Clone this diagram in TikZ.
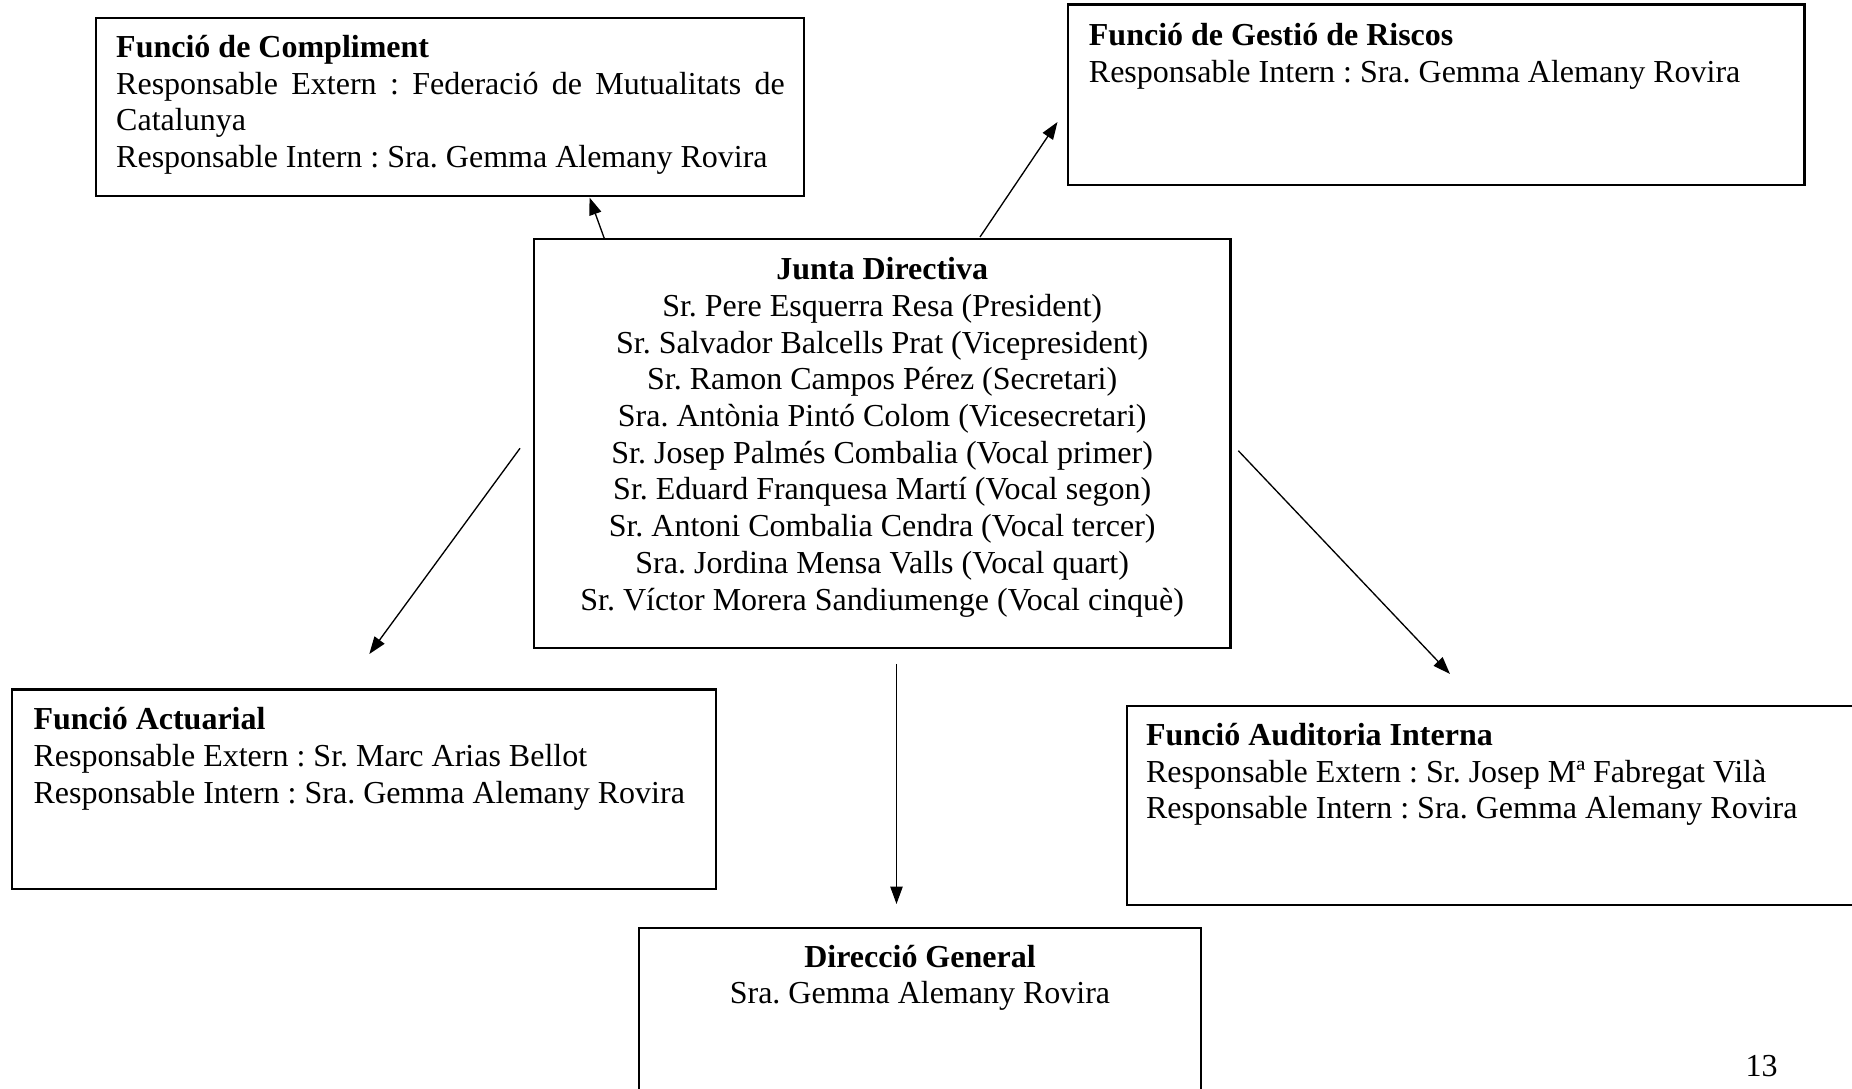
\documentclass[tikz,border=0pt]{standalone}
\usepackage{fontspec}
\setmainfont{Liberation Serif}
\usetikzlibrary{arrows.meta}
\newcommand\topstrut{\rule{0pt}{10pt}}
\frenchspacing
\tikzset{
  orgbox/.style={draw=black, line width=0.8pt, inner sep=0pt, fill=none},
  orgtext/.style={inner sep=0pt, font=\fontsize{12}{13.76}\selectfont\frenchspacing},
  orgarrow/.style={line width=0.5pt, -{Triangle[length=6.5pt,width=4.6pt]}}
}
\begin{document}
\begin{tikzpicture}[x=0.375pt,y=-0.375pt]
\useasboundingbox (0,0) rectangle (1852,1089);
\clip (0,0) rectangle (1852,1089);

% boxes
\node[orgbox, minimum width={708.6*0.375pt}, minimum height={178.7*0.375pt}] (comp) at (450,107) {};
\node[orgbox, minimum width={736.7*0.375pt}, minimum height={180.5*0.375pt}] (gest) at (1436.2,94.8) {};
\node[orgbox, minimum width={696.5*0.375pt}, minimum height={409.3*0.375pt}] (junta) at (882.2,443.6) {};
\node[orgbox, minimum width={703.9*0.375pt}, minimum height={199.5*0.375pt}] (act) at (363.7,789.2) {};
\node[orgbox, minimum width={743.3*0.375pt}, minimum height={199*0.375pt}] (aud) at (1498.3,805.5) {};
\node[orgbox, minimum width={562*0.375pt}, minimum height={192.3*0.375pt}] (dir) at (920,1023.8) {};

% texts
\node[orgtext, anchor=north west, text width=250.7pt, align=justify] (comptxt) at (115.7,30.3)
  {\noindent\topstrut\textbf{Funció de Compliment}\\
   Responsable Extern : Federació de Mutualitats de\linebreak
   Catalunya\\
   Responsable Intern : Sra. Gemma Alemany Rovira};
\node[orgtext, anchor=north west, align=left] (gesttxt) at (1088.4,18.3)
  {\topstrut\textbf{Funció de Gestió de Riscos}\\
   Responsable Intern : Sra. Gemma Alemany Rovira};
\node[orgtext, anchor=north, align=center] (juntatxt) at (882.2,252.6)
  {\topstrut\textbf{Junta Directiva}\\
   Sr. Pere Esquerra Resa (President)\\
   Sr. Salvador Balcells Prat (Vicepresident)\\
   Sr. Ramon Campos Pérez (Secretari)\\
   Sra. Antònia Pintó Colom (Vicesecretari)\\
   Sr. Josep Palmés Combalia (Vocal primer)\\
   Sr. Eduard Franquesa Martí (Vocal segon)\\
   Sr. Antoni Combalia Cendra (Vocal tercer)\\
   Sra. Jordina Mensa Valls (Vocal quart)\\
   Sr. Víctor Morera Sandiumenge (Vocal cinquè)};
\node[orgtext, anchor=north west, align=left] (acttxt) at (33,702.6)
  {\topstrut\textbf{Funció Actuarial}\\
   Responsable Extern : Sr. Marc Arias Bellot\\
   Responsable Intern : Sra. Gemma Alemany Rovira};
\node[orgtext, anchor=north west, align=left] (audtxt) at (1145.6,718.3)
  {\topstrut\textbf{Funció Auditoria Interna}\\
   Responsable Extern : Sr. Josep Mª Fabregat Vilà\\
   Responsable Intern : Sra. Gemma Alemany Rovira};
\node[orgtext, anchor=north, align=center] (dirtxt) at (920,940)
  {\topstrut\textbf{Direcció General}\\
   Sra. Gemma Alemany Rovira};
\node[orgtext, anchor=base west] (pagenum) at (1745,1076) {13};

% connector endpoints
\coordinate (a1s) at (604.5,239);
\coordinate (a1e) at (589.5,197.5);
\coordinate (a2s) at (980,237);
\coordinate (a2e) at (1057.5,122);
\coordinate (a3s) at (520,448.3);
\coordinate (a3e) at (369.3,654);
\coordinate (a4s) at (1238.3,450.7);
\coordinate (a4e) at (1450,674);
\coordinate (a5s) at (896.5,663.8);
\coordinate (a5e) at (896.5,904);

\draw[orgarrow] (a1s) -- (a1e);
\draw[orgarrow] (a2s) -- (a2e);
\draw[orgarrow] (a3s) -- (a3e);
\draw[orgarrow] (a4s) -- (a4e);
\draw[orgarrow] (a5s) -- (a5e);
\end{tikzpicture}
\end{document}
